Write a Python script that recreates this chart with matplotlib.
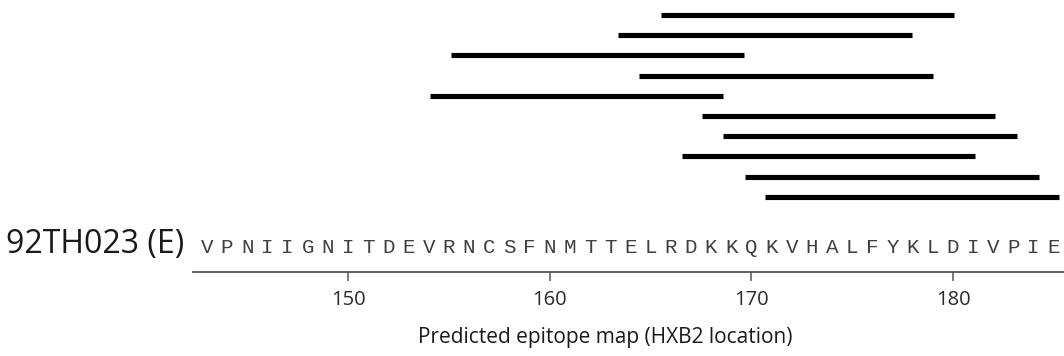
import matplotlib
matplotlib.use("Agg")
import matplotlib.pyplot as plt
from matplotlib.transforms import blended_transform_factory

# sequence of 92TH023 (E), one residue per HXB2 position
SEQUENCE = "VPNIIGNITDEVRNCSFNMTTELRDKKQKVHALFYKLDIVPIE"
SEQ_START = 143
STRAIN = "92TH023 (E)"

# predicted epitopes, top to bottom (HXB2 start / end)
epitope_start = [165.5, 163.4, 155.1, 164.45, 154.05, 167.55, 168.6, 166.55, 169.7, 170.7]
epitope_end = [180.05, 177.95, 169.65, 179.0, 168.6, 182.1, 183.15, 181.1, 184.25, 185.25]

ticks = [150, 160, 170, 180]
XLABEL = "Predicted epitope map (HXB2 location)"

W, H = 1064, 356
fig = plt.figure(figsize=(W / 100, H / 100), dpi=100)
# axes spans from the top of the figure down to the axis line
ax = fig.add_axes([192.7 / W, (H - 271.7) / H, 1 - 192.7 / W, 271.7 / H])

rows = list(range(len(epitope_start)))
ax.hlines(rows, epitope_start, epitope_end, color="black", linewidth=3.7, capstyle="butt")

# sequence letters under the bars, x in data, y in figure
trans = blended_transform_factory(ax.transData, fig.transFigure)
positions = [SEQ_START + i for i in range(len(SEQUENCE))]
for x, aa in zip(positions, SEQUENCE):
    ax.text(x, 1 - 253 / H, aa, ha="center", va="baseline", fontsize=15,
            family="Liberation Mono", color="#404040", transform=trans)

ax.set_xlim(142.3, 185.5)
ax.set_ylim(12.7, -0.74)

for s in ["top", "right", "left"]:
    ax.spines[s].set_visible(False)
ax.spines["bottom"].set_color("#555555")
ax.spines["bottom"].set_linewidth(1.3)
ax.set_yticks([])
ax.set_xticks(ticks)
ax.tick_params(axis="x", direction="out", length=6.5, width=1.1, color="#555555",
               pad=6.5, labelsize=14.5, labelcolor="#2a2a2a")
for lab in ax.get_xticklabels():
    lab.set_family("Open Sans")

# label sits a bit left of the axis centre in the original
ax.set_xlabel(XLABEL, fontsize=15, family="Open Sans", color="#1a1a1a")
ax.xaxis.set_label_coords(0.473, -(337 - 271.7) / 271.7)
ax.xaxis.label.set_va("center")

fig.text(6 / W, 1 - 253 / H, STRAIN, ha="left", va="baseline", fontsize=23,
         family="Open Sans", color="#1a1a1a")

fig.savefig("out.png", dpi=100)
